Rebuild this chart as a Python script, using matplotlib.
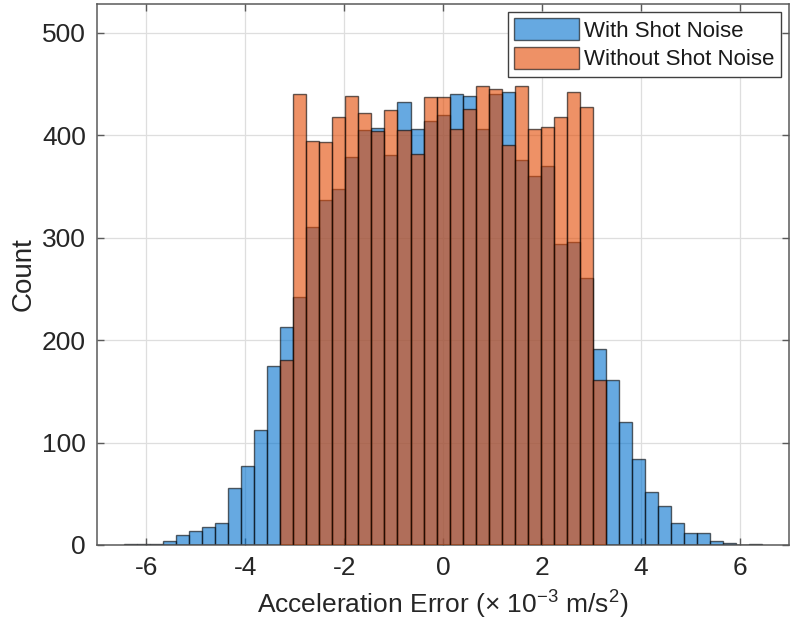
import numpy as np
import matplotlib
matplotlib.use("Agg")
import matplotlib.pyplot as plt

plt.rcParams['font.family'] = ['Liberation Sans', 'DejaVu Sans']
plt.rcParams['mathtext.fontset'] = 'custom'
plt.rcParams['mathtext.rm'] = 'Liberation Sans'
plt.rcParams['mathtext.it'] = 'Liberation Sans:italic'

# ---- data ----
bin_lo, bin_hi, n_bins = -6.45, 6.45, 49
bin_edges = np.linspace(bin_lo, bin_hi, n_bins + 1)

counts_with_noise = [
    1, 1, 1, 4, 10, 14, 18, 21, 56, 77, 112, 175,
    213, 242, 310, 337, 347, 379, 405, 407, 381, 432, 406, 414, 420,
    440, 438, 406, 440, 442, 376, 360, 370, 294, 296, 261, 191,
    161, 120, 84, 52, 38, 21, 12, 12, 4, 2, 0, 1,
]
counts_without_noise = [
    0, 0, 0, 0, 0, 0, 0, 0, 0, 0, 0, 0,
    181, 440, 394, 393, 418, 438, 422, 404, 425, 405, 382, 437, 437,
    406, 426, 448, 445, 390, 448, 406, 408, 418, 442, 427, 161,
    0, 0, 0, 0, 0, 0, 0, 0, 0, 0, 0, 0,
]
series_labels = ["With Shot Noise", "Without Shot Noise"]
x_ticks = [-6, -4, -2, 0, 2, 4, 6]
y_ticks = [0, 100, 200, 300, 400, 500]

# ---- figure ----
fig = plt.figure(figsize=(7.91, 6.36), dpi=100)
ax = fig.add_axes([0.1226, 0.1431, 0.875, 0.8506])

widths = np.diff(bin_edges)
blue = (0/255, 112/255, 205/255)
orange = (227/255, 72/255, 0/255)

ax.bar(bin_edges[:-1], counts_with_noise, width=widths, align='edge',
       color=blue, alpha=0.6, edgecolor=(0, 0, 0, 0.9), linewidth=1.0,
       label=series_labels[0], zorder=2)
ax.bar(bin_edges[:-1], counts_without_noise, width=widths, align='edge',
       color=orange, alpha=0.6, edgecolor=(0, 0, 0, 0.9), linewidth=1.0,
       label=series_labels[1], zorder=3)

ax.set_xlim(-7, 7)
ax.set_ylim(0, 528)
ax.set_xticks(x_ticks)
ax.set_yticks(y_ticks)
ax.set_xticklabels([str(v) for v in x_ticks])
ax.grid(True, color='#dedede', linewidth=0.9, zorder=0)
ax.set_axisbelow(True)

axis_col = '#5a5a5a'
for s in ax.spines.values():
    s.set_color(axis_col)
    s.set_linewidth(1.1)
ax.tick_params(direction='in', length=5, width=1.0, color=axis_col,
               labelsize=19, labelcolor='#262626', top=True, right=True,
               pad=8)

ax.set_xlabel(r"Acceleration Error ($\times$ 10$^{-3}$ m/s$^{2}$)",
              fontsize=19, color='#262626', labelpad=6)
ax.set_ylabel("Count", fontsize=20, color='#262626', labelpad=4)

leg = ax.legend(loc='upper right', fontsize=16, frameon=True, fancybox=False,
                handlelength=2.9, handleheight=1.1, handletextpad=0.25,
                borderpad=0.3, labelspacing=0.25, borderaxespad=0.35)
leg.get_frame().set_edgecolor('#404040')
leg.get_frame().set_linewidth(1.0)
leg.get_frame().set_alpha(1.0)
for t in leg.get_texts():
    t.set_color('#1a1a1a')

fig.savefig("out.png", dpi=100)
